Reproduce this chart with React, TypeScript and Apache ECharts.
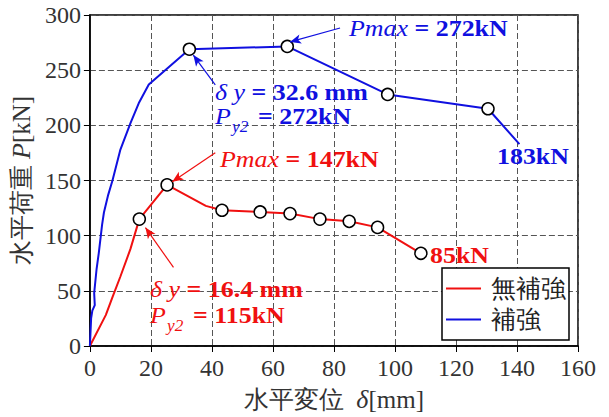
import React, { useEffect, useRef } from "react";
import * as echarts from "echarts";

const xTicks = [0, 20, 40, 60, 80, 100, 120, 140, 160];
const yTicks = [0, 50, 100, 150, 200, 250, 300];

// 無補強 (unreinforced): [δ mm, P kN, marked 1/0]
const redCurve: [number, number, number][] = [
  [0, 0, 0], [5.2, 28, 0], [7.5, 45, 0], [10, 63, 0], [13.3, 88, 0],
  [16.2, 115, 1], [25.3, 146, 1], [38, 127, 0], [43.3, 123, 1],
  [55.8, 121.5, 1], [65.6, 120, 1], [75.4, 115, 1], [85, 113, 1],
  [94.3, 107.5, 1], [108.5, 84, 1],
];

// 補強 (reinforced)
const blueCurve: [number, number, number][] = [
  [0, 0, 0], [0.4, 25, 0], [0.8, 32, 0], [1.6, 37, 0], [1.4, 48, 0],
  [2.2, 70, 0], [2.9, 84, 0], [4, 110, 0], [4.6, 121, 0], [6, 137, 0],
  [7.4, 150, 0], [10, 178, 0], [13.3, 202, 0], [16, 220, 0], [19.3, 237, 0],
  [32.6, 269, 1], [64.7, 271.5, 1], [97.6, 228, 1], [130.5, 215, 1], [140.8, 183, 0],
];

// annotation arrows [from, to] in data units
const blueArrows = [
  [[82, 288.2], [65.6, 275.6]],
  [[41.1, 236.6], [33.9, 263.7]],
];
const redArrows = [
  [[41.1, 175.1], [27.0, 148.9]],
  [[27.4, 71.2], [18.2, 107.3]],
];

const RED = "#f01010";
const BLUE = "#1010e0";
const SERIF = "Liberation Serif";

function toData(curve: [number, number, number][]) {
  return curve.map(([x, y, m]) =>
    m
      ? { value: [x, y], symbol: "circle", itemStyle: { color: "#fff", borderColor: "#000", borderWidth: 1.5 } }
      : { value: [x, y], symbol: "none" }
  );
}

function arrowData(arr: number[][][]) {
  return arr.map(([a, b]) => [{ coord: a }, { coord: b }]);
}

function richText(x: number, y: number, text: string, color: string, size = 24) {
  return {
    type: "text",
    x,
    y,
    scaleX: 1.08,
    z: 100,
    style: {
      text,
      fill: color,
      align: "left",
      verticalAlign: "middle",
      fontFamily: SERIF,
      fontSize: size,
      fontWeight: "bold",
      rich: {
        i: { fontStyle: "italic", fontWeight: "normal", fontSize: size, fontFamily: SERIF, fill: color },
        b: { fontWeight: "bold", fontSize: size, fontFamily: SERIF, fill: color },
        s: { fontStyle: "italic", fontWeight: "normal", fontSize: 16, fontFamily: SERIF, fill: color },
      },
    },
  };
}

export default function App() {
  const ref = useRef<HTMLDivElement>(null);
  useEffect(() => {
    if (!ref.current) return;
    const chart = echarts.init(ref.current, undefined, { renderer: "svg" });
    const axisLabel = { color: "#333", fontFamily: SERIF, fontSize: 24 };
    const splitLine = { show: true, lineStyle: { color: "#555", width: 1, type: [6, 3] } };
    const nameStyle = {
      fontFamily: SERIF,
      fontSize: 25,
      color: "#333",
      rich: { i: { fontFamily: SERIF, fontStyle: "italic", fontSize: 26, color: "#333" } },
    };
    chart.setOption({
      animation: false,
      backgroundColor: "#fff",
      textStyle: { fontFamily: SERIF },
      grid: { left: 89, right: 31, top: 15, bottom: 65, show: true, borderColor: "#000", borderWidth: 1.5 },
      xAxis: {
        type: "value",
        min: xTicks[0],
        max: xTicks[xTicks.length - 1],
        interval: 20,
        axisLine: { lineStyle: { color: "#000", width: 1.5 } },
        axisTick: { show: true, inside: false, length: 6, lineStyle: { color: "#000" } },
        axisLabel: { ...axisLabel, margin: 10 },
        splitLine,
        name: "水平変位  {i|δ}[mm]",
        nameLocation: "middle",
        nameGap: 40,
        nameTextStyle: nameStyle,
      },
      yAxis: {
        type: "value",
        min: yTicks[0],
        max: yTicks[yTicks.length - 1],
        interval: 50,
        axisLine: { show: true, lineStyle: { color: "#000", width: 1.5 } },
        axisTick: { show: true, inside: false, length: 6, lineStyle: { color: "#000" } },
        axisLabel: { ...axisLabel, margin: 9 },
        splitLine,
        name: "水平荷重 {i|P}[kN]",
        nameLocation: "middle",
        nameGap: 48,
        nameTextStyle: nameStyle,
      },
      legend: {
        data: ["無補強", "補強"],
        orient: "vertical",
        left: 442,
        top: 268,
        backgroundColor: "#fff",
        borderColor: "#000",
        borderWidth: 1.5,
        borderRadius: 0,
        padding: [8, 3, 8, 4],
        itemGap: 6,
        itemWidth: 35,
        itemHeight: 2,
        icon: "rect",
        textStyle: { fontFamily: SERIF, fontSize: 25, color: "#222", padding: [0, 0, 0, 5] },
      },
      series: [
        {
          name: "無補強",
          type: "line",
          color: RED,
          data: toData(redCurve),
          symbolSize: 12,
          showSymbol: true,
          lineStyle: { color: RED, width: 2 },
          z: 3,
          markLine: {
            silent: true,
            symbol: ["none", "arrow"],
            symbolSize: [7, 11],
            label: { show: false },
            lineStyle: { color: RED, width: 1.2, type: "solid" },
            data: arrowData(redArrows),
          },
        },
        {
          name: "補強",
          type: "line",
          color: BLUE,
          data: toData(blueCurve),
          symbolSize: 12,
          showSymbol: true,
          lineStyle: { color: BLUE, width: 2 },
          z: 3,
          markLine: {
            silent: true,
            symbol: ["none", "arrow"],
            symbolSize: [7, 11],
            label: { show: false },
            lineStyle: { color: BLUE, width: 1.2, type: "solid" },
            data: arrowData(blueArrows),
          },
        },
      ],
      graphic: [
        richText(349, 28, "{i|Pmax} {b|= 272kN}", BLUE),
        richText(215, 92, "{i|δ y} {b|= 32.6 mm}", BLUE),
        richText(215, 116, "{i|P}", BLUE),
        richText(232, 127, "{s|y2}", BLUE),
        richText(258, 116, "{b|= 272kN}", BLUE),
        richText(497, 156, "{b|183kN}", BLUE),
        richText(220, 159, "{i|Pmax} {b|= 147kN}", RED),
        richText(150, 289, "{i|δ y} {b|= 16.4 mm}", RED),
        richText(150, 315, "{i|P}", RED),
        richText(167, 326, "{s|y2}", RED),
        richText(193, 315, "{b|= 115kN}", RED),
        richText(430, 255, "{b|85kN}", RED),
      ],
    });
    return () => chart.dispose();
  }, []);
  return <div ref={ref} style={{ width: 609, height: 417, position: "absolute", left: 0, top: 0 }} />;
}
